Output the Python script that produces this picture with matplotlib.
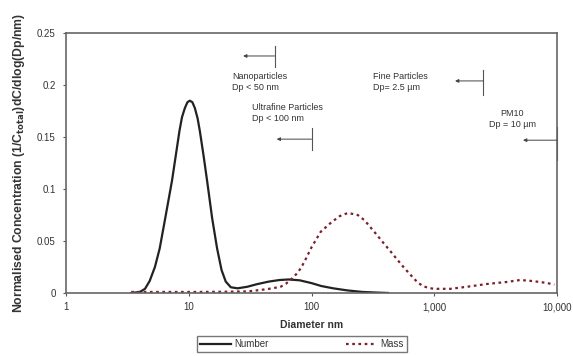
import numpy as np
import matplotlib
matplotlib.use('Agg')
from matplotlib import pyplot as plt
from matplotlib.ticker import FixedLocator, NullLocator

plt.rcParams['font.family'] = ['Liberation Sans', 'DejaVu Sans']

# Number distribution (diameter nm, normalised concentration)
number_d = [3.4, 4.0, 4.4, 4.8, 5.3, 5.8, 6.5, 7.3, 7.9, 8.4, 8.8, 9.3, 9.75,
            10.2, 10.7, 11.2, 11.8, 12.3, 13.2, 14.1, 15.5, 17.0, 18.5, 20.0,
            22.0, 25.0, 30, 36, 45, 55, 65, 80, 100, 120, 150, 195, 260, 340, 420]
number_v = [0, 0.001, 0.004, 0.0115, 0.025, 0.043, 0.075, 0.108, 0.135, 0.156,
            0.169, 0.178, 0.1835, 0.185, 0.1835, 0.178, 0.168, 0.156, 0.132,
            0.108, 0.072, 0.043, 0.022, 0.011, 0.0055, 0.0045, 0.006, 0.0085,
            0.011, 0.0125, 0.013, 0.0122, 0.0095, 0.0067, 0.0045, 0.0025, 0.001,
            0.0004, 0]

# Mass distribution
mass_d = [3.4, 5, 8, 12, 20, 30, 39, 48, 56, 62, 68, 75, 82, 90, 100, 119, 145,
          170, 198, 238, 270, 303, 340, 386, 440, 500, 570, 645, 720, 800, 900,
          1000, 1350, 1850, 2700, 3900, 5000, 6300, 8300, 9500]
mass_v = [0.001, 0.001, 0.001, 0.001, 0.0012, 0.0015, 0.003, 0.0045, 0.006,
          0.009, 0.013, 0.018, 0.024, 0.033, 0.044, 0.059, 0.068, 0.074, 0.077,
          0.075, 0.070, 0.063, 0.056, 0.048, 0.040, 0.032, 0.024, 0.017, 0.011,
          0.0068, 0.0048, 0.004, 0.004, 0.006, 0.0087, 0.0106, 0.0125, 0.0115,
          0.0096, 0.008]

x_ticks = [1, 10, 100, 1000, 10000]
x_labels = ['1', '10', '100', '1,000', '10,000']
y_ticks = [0, 0.05, 0.1, 0.15, 0.2, 0.25]
y_labels = ['0', '0.05', '0.1', '0.15', '0.2', '0.25']

# size cut-offs (nm) and their labels
cut_sizes = [50, 100, 2500, 10000]
cut_labels = ['Nanoparticles\nDp < 50 nm', 'Ultrafine Particles\nDp < 100 nm',
              'Fine Particles\nDp= 2.5 \u00b5m', 'PM10\nDp = 10 \u00b5m']

fig = plt.figure(figsize=(5.73, 3.56), dpi=100)
ax = fig.add_axes([0.1152, 0.177, 0.857, 0.730])

txt = '#333333'
ax.plot(number_d, number_v, color='#222222', lw=1.6, label='Number')
ax.plot(mass_d, mass_v, color='#7a1f2b', lw=1.6, dashes=(1.2, 1.6), label='Mass')

ax.set_xscale('log')
ax.set_xlim(1, 10000)
ax.set_ylim(0, 0.25)
ax.xaxis.set_major_locator(FixedLocator(x_ticks))
ax.xaxis.set_minor_locator(NullLocator())
ax.set_xticklabels(x_labels)
ax.set_yticks(y_ticks)
ax.set_yticklabels(y_labels)
ax.tick_params(axis='both', direction='out', length=2.5, width=0.8,
               color='#555555', labelsize=7, labelcolor=txt)
ax.tick_params(axis='y', pad=5)
ax.tick_params(axis='x', pad=4)

for s in ax.spines.values():
    s.set_color('#666666')
    s.set_linewidth(1.2)

ax.set_xlabel('Diameter nm', fontsize=7.5, fontweight='bold', color=txt, labelpad=6)
ax.set_ylabel('Normalised Concentration (1/C$_{\\mathbf{total}}$)dC/dlog(Dp/nm)',
              fontsize=8.8, fontweight='bold', color=txt, labelpad=7)

# annotation brackets: (vertical line y-range, arrow y, arrow head x, text x, text y, ha)
ann = [
    ((0.217, 0.238), 0.228, 27.7, 22.5, 0.203, 'left'),
    ((0.1375, 0.159), 0.148, 52, 32.7, 0.173, 'left'),
    ((0.190, 0.2145), 0.204, 1475, 317, 0.203, 'left'),
    ((0.128, 0.160), 0.147, 5280, 4300, 0.167, 'center'),
]
for cut, lab, (yr, ya, xh, xt, yt, ha) in zip(cut_sizes, cut_labels, ann):
    ax.plot([cut, cut], yr, color='#555555', lw=0.8, clip_on=False)
    ax.annotate('', xy=(xh, ya), xytext=(cut, ya),
                arrowprops=dict(arrowstyle='-|>', lw=0.7, color='#444444',
                                mutation_scale=5, shrinkA=0, shrinkB=0),
                annotation_clip=False)
    ax.text(xt, yt, lab, fontsize=6.5, color=txt, ha=ha, va='center',
            multialignment=ha, linespacing=1.3)

leg = fig.legend(loc='upper center', bbox_to_anchor=(0.527, 0.055), ncol=2,
                 fontsize=7, frameon=True, fancybox=False, edgecolor='#555555',
                 handlelength=3.2, handletextpad=0.3, columnspacing=8,
                 borderpad=0.3, borderaxespad=0)
leg.get_frame().set_linewidth(1.0)
for t in leg.get_texts():
    t.set_color(txt)

fig.savefig('out.png', dpi=100)
